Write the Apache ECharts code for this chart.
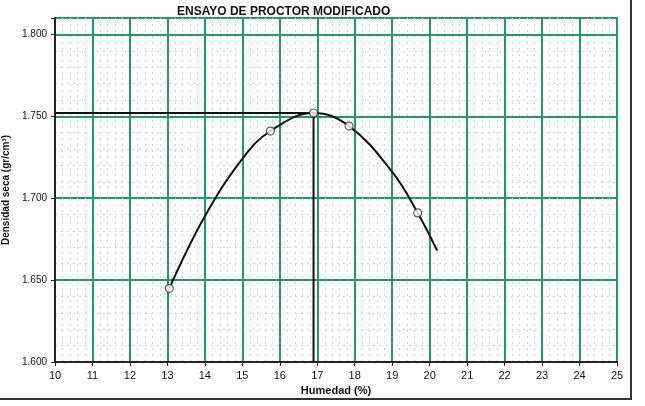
<!DOCTYPE html>
<html>
<head>
<meta charset="utf-8">
<script src="https://cdn.jsdelivr.net/npm/echarts@6/dist/echarts.min.js"></script>
<style>
  html, body { margin: 0; padding: 0; background: #fff; }
  #chart { width: 645px; height: 406px; }
  .frame {
    position: absolute; left: 0; top: 0; width: 630px; height: 398px;
    border-right: 2px solid #333; border-bottom: 2px solid #333;
    pointer-events: none;
  }
</style>
</head>
<body>
<div id="chart"></div>
<div class="frame"></div>
<script>
// puntos del ensayo (humedad %, densidad seca gr/cm3)
const humedad = [13.05, 15.75, 16.9, 17.85, 19.68]
const densidad = [1.645, 1.741, 1.752, 1.744, 1.691]

// curva de compactacion
const curvaX = [13.05, 14.0, 15.0, 15.75, 16.9, 17.85, 19.0, 19.68, 20.2]
const curvaY = [1.645, 1.689, 1.724, 1.741, 1.752, 1.744, 1.716, 1.691, 1.668]

// optimo contenido de humedad y maxima densidad seca
const och = 16.9
const mds = 1.752

const green = '#1a9d6c'
const font = 'Liberation Sans'

const chart = echarts.init(document.getElementById('chart'))
chart.setOption({
  animation: false,
  title: {
    text: 'ENSAYO DE PROCTOR MODIFICADO',
    left: 172,
    top: 1,
    textStyle: { fontFamily: font, fontSize: 12, fontWeight: 'bold', color: '#111' }
  },
  grid: {
    left: 55, right: 28, top: 18, bottom: 44,
    outerBoundsMode: 'none',
    containLabel: false,
    show: true, borderColor: green, borderWidth: 2, backgroundColor: '#fff'
  },
  xAxis: {
    type: 'value',
    min: 10, max: 25, interval: 1,
    name: 'Humedad (%)',
    nameLocation: 'middle',
    nameGap: 20,
    nameTextStyle: { fontFamily: font, fontSize: 11, fontWeight: 'bold', color: '#111' },
    axisLine: { show: true, onZero: false, lineStyle: { color: '#222', width: 2 } },
    axisTick: { show: true, length: 4, lineStyle: { color: '#222' } },
    axisLabel: { fontFamily: font, fontSize: 11, color: '#111', margin: 8 },
    splitLine: { show: true, lineStyle: { color: green, width: 2 } },
    minorTick: { show: true, splitNumber: 5, length: 0 },
    minorSplitLine: { show: true, lineStyle: { color: '#d6d6d6', width: 1, type: [2, 4] } }
  },
  yAxis: {
    type: 'value',
    min: 1.6, max: 1.81, interval: 0.05,
    name: 'Densidad seca (gr/cm³)',
    nameLocation: 'middle',
    nameGap: 44,
    nameTextStyle: { fontFamily: font, fontSize: 10, fontWeight: 'bold', color: '#111' },
    axisLine: { show: true, lineStyle: { color: '#222', width: 2 } },
    axisTick: { show: true, length: 4, lineStyle: { color: '#222' } },
    axisLabel: {
      fontFamily: font, fontSize: 10, color: '#111', margin: 8,
      showMaxLabel: false,
      formatter: v => v.toFixed(3)
    },
    splitLine: { show: true, lineStyle: { color: green, width: 2 } },
    minorTick: { show: true, splitNumber: 5, length: 0 },
    minorSplitLine: { show: true, lineStyle: { color: '#d6d6d6', width: 1, type: [2, 4] } }
  },
  series: [
    {
      type: 'line',
      data: [[10, mds], [och, mds]],
      symbol: 'none',
      lineStyle: { color: '#111', width: 2 },
      z: 3
    },
    {
      type: 'line',
      data: [[och, 1.6], [och, mds]],
      symbol: 'none',
      lineStyle: { color: '#111', width: 2 },
      z: 3
    },
    {
      type: 'line',
      data: curvaX.map((x, i) => [x, curvaY[i]]),
      smooth: 0.4,
      symbol: 'none',
      lineStyle: { color: '#111', width: 2 },
      z: 4
    },
    {
      type: 'scatter',
      data: humedad.map((x, i) => [x, densidad[i]]),
      symbol: 'circle',
      symbolSize: 8,
      itemStyle: { color: '#fff', borderColor: '#333', borderWidth: 1.2 },
      z: 5
    }
  ]
})
</script>
</body>
</html>
